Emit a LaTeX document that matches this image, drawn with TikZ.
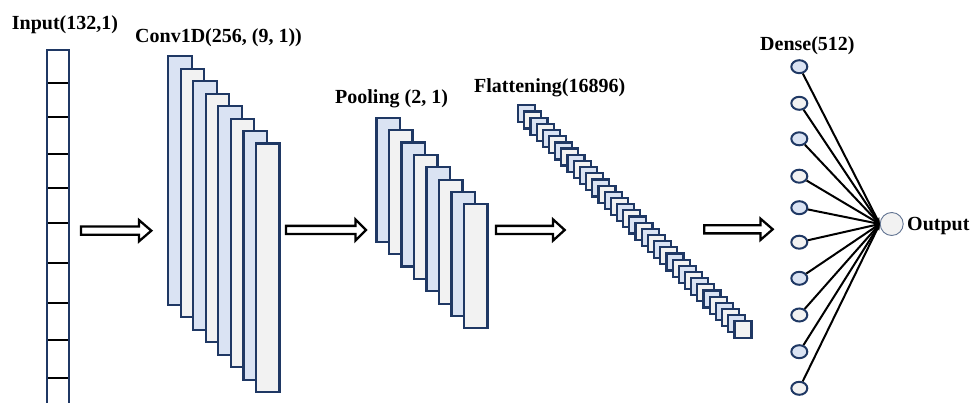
\documentclass[tikz,border=0pt]{standalone}
\usepackage{fontspec}
\setmainfont{Liberation Serif}
\usetikzlibrary{arrows.meta,shapes.geometric}
\definecolor{navy}{HTML}{1F3864}
\definecolor{lblue}{HTML}{DAE3F3}
\definecolor{lgray}{HTML}{F2F2F2}
\newcommand\blockarr[4]{%
  \draw[barrow] (#1,#4-4.1) -- (#3,#4-4.1) -- (#3,#4-10.6) -- (#2,#4) -- (#3,#4+10.6) -- (#3,#4+4.1) -- (#1,#4+4.1) -- cycle;}
\begin{document}
\begin{tikzpicture}[x=1pt,y=-1pt,
  lay/.style={draw=navy, line width=2.2pt, inner sep=0pt, anchor=north west},
  dnode/.style={ellipse, draw=navy, line width=2pt, inner sep=0pt, minimum width=16, minimum height=13},
  lbl/.style={anchor=base west, inner sep=0pt, font=\fontsize{20}{24}\selectfont\bfseries},
  barrow/.style={draw=black, line width=2.3pt, fill=white, line join=miter},
  conn/.style={black, line width=2pt, -{Stealth[length=6pt,width=5pt]}}]
\useasboundingbox (0,0) rectangle (971,403);
% input column
\foreach \yy in {83.3,117.3,154.3,188.3,222.7,263.3,302.7,340,377.7}{
  \draw[black, line width=2.2pt] (46.6,\yy) -- (69.1,\yy);
}
\draw[navy, line width=2.2pt, line join=miter] (46.6,415) -- (46.6,50) -- (69.1,50) -- (69.1,415);
% conv layers
\foreach \i in {0,...,7}{
  \ifodd\i \def\fc{lgray}\else\def\fc{lblue}\fi
  \node[lay, fill=\fc, minimum width=23.5, minimum height=248.5] (conv\i) at ({167+12.55*\i},{55.3+12.45*\i}) {};
}
% pooling layers
\foreach \i in {0,...,7}{
  \ifodd\i \def\fc{lgray}\else\def\fc{lblue}\fi
  \node[lay, fill=\fc, minimum width=23.5, minimum height=124] (pool\i) at ({375.3+12.5*\i},{116.7+12.37*\i}) {};
}
% flattening
\foreach \i in {0,...,35}{
  \ifodd\i \def\fc{lgray}\else\def\fc{lblue}\fi
  \node[lay, fill=\fc, minimum width=17, minimum height=17] (fl\i) at ({517+6.18*\i},{104.3+6.17*\i}) {};
}
% dense
\foreach \yy [count=\k from 0] in {66.7,103.3,138.8,176.2,207.7,242.2,278.3,315,351.7,388.3}{
  \ifodd\k \def\fc{lgray}\else\def\fc{lblue}\fi
  \node[dnode, fill=\fc] (d\k) at (799.3,\yy) {};
}
\node[circle, draw=navy!70, line width=0.9pt, fill=lgray, inner sep=0pt, minimum size=23] (out) at (891.7,224) {};
\foreach \k in {0,...,9}{
  \draw[conn] (d\k) -- (out.west);
}
% block arrows
\blockarr{81}{151.3}{139}{230.7}
\blockarr{286}{366}{355.5}{230}
\blockarr{496}{564.7}{553}{230}
\blockarr{704.3}{772.7}{760.5}{229.3}
% labels
\node[lbl] (tin) at (11.7,30) {Input(132,1)};
\node[lbl] (tconv) at (135,43) {Conv1D(256, (9, 1))};
\node[lbl] (tpool) at (335,104) {Pooling (2, 1)};
\node[lbl] (tflat) at (474,93) {Flattening(16896)};
\node[lbl] (tdense) at (760,50.5) {Dense(512)};
\node[lbl] (tout) at (907,231) {Output};
\end{tikzpicture}
\end{document}
